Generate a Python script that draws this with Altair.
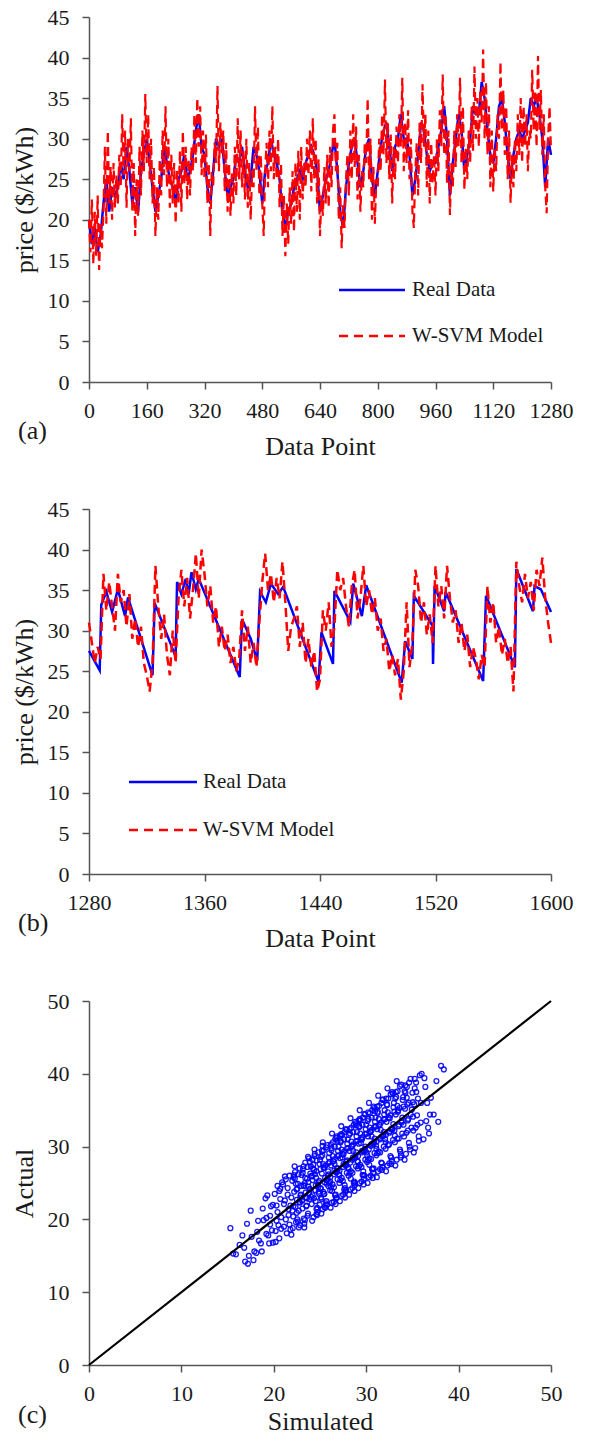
import altair as alt
import pandas as pd

FONT = "Liberation Serif"

# ---------------- Panel (a): data points 0..1280 ----------------
# W-SVM model (red, dashed), read every 4 data points
red_a = [
    20, 16, 22.5, 14.5, 21, 15.5, 23, 13.8, 19.5, 16.5,
    21, 29, 19.5, 31, 22, 26.5, 20, 27, 21.5, 25.5,
    22, 28, 24, 33, 25.5, 31, 21.5, 30, 26, 32.5,
    21, 27, 18, 25, 20.5, 29, 23, 31, 26, 35.5,
    27, 33, 25, 30, 22, 26.5, 18, 24, 20, 27.5,
    23, 31, 25.5, 34, 24, 30, 21.5, 28, 22, 27,
    19.5, 26, 22, 28.5, 21, 31, 24.5, 29, 22.5, 27.5,
    23, 29, 26, 33, 27, 35, 29, 34, 25.5, 31,
    25, 30.5, 22, 27, 18, 26, 24, 29.5, 27, 36.5,
    26, 32, 28, 31, 23.5, 29.5, 21, 27, 20.5, 26,
    22, 29, 23, 32.5, 25, 31, 24, 28.5, 22.5, 30,
    21.5, 27, 20, 26, 24, 34, 26, 31.5, 23, 28,
    22, 18, 26, 29.5, 24, 31, 26, 34, 25, 29,
    25, 30, 21.5, 27, 18, 23, 15.5, 22, 17, 24,
    19.5, 26, 18.5, 27, 21, 28.5, 20, 29, 22.5, 27,
    24, 30, 25.5, 31, 23.5, 32.5, 25, 30, 22, 27.5,
    18, 23, 20.5, 26.5, 22, 28, 21.5, 29, 24, 31,
    33, 26, 29.5, 20, 24, 16.5, 22, 19, 25, 28,
    23, 31, 25, 33, 26.5, 31.5, 22.5, 28, 21, 26,
    24, 29.5, 27, 35, 25, 30, 20, 26.5, 19.5, 25,
    24, 30, 26, 33, 28, 37.3, 27, 32, 25, 30.5,
    22, 29, 25, 31.5, 27, 33, 29, 37.5, 26, 32,
    27, 33.5, 25, 30, 21, 19, 26, 29.5, 23, 32,
    27, 36.7, 29, 33, 24, 31, 22, 29.5, 24.5, 28,
    23, 30, 26, 33.5, 29, 37.9, 28, 33, 24.5, 31,
    20.6, 27, 24, 31, 26.5, 33, 29, 37.5, 27, 34,
    23.7, 29, 25, 31, 27, 34, 28.5, 38.9, 30, 35,
    29, 36, 32, 41, 30, 37, 28, 34, 24, 31,
    23.5, 29, 26, 33, 30, 39.5, 31, 36, 28, 34,
    25, 31, 22.1, 28, 24, 30, 26, 33, 28, 35,
    27, 34, 29, 33, 26, 31, 30, 38.5, 31, 36,
    29, 40.2, 31, 36, 28, 33, 24, 20.8, 30, 34,
    28.5,
]
# Real data (blue), read every 8 data points
blue_a = [
    20, 17, 19, 16, 18, 22, 25, 21, 24, 23,
    24, 27, 25, 29, 26, 22, 24, 21, 26, 28,
    30, 27, 24, 21, 23, 25, 29, 27, 25, 24,
    22, 25, 26, 28, 25, 26, 28, 31, 33, 29,
    28, 24, 22, 26, 30, 29, 30, 26, 23, 24,
    25, 28, 27, 29, 26, 24, 25, 29, 28, 26,
    22, 26, 27, 30, 28, 27, 25, 21, 19, 21,
    22, 24, 25, 26, 25, 27, 28, 29, 28, 26,
    21, 23, 25, 26, 28, 30, 26, 21, 19, 24,
    27, 29, 30, 27, 24, 26, 29, 30, 25, 23,
    26, 29, 31, 32, 29, 26, 29, 30, 33, 30,
    30, 28, 23, 25, 28, 32, 31, 28, 26, 27,
    27, 29, 31, 34, 30, 23, 27, 30, 33, 31,
    26, 28, 30, 34, 33, 33, 37, 35, 31, 28,
    27, 30, 34, 35, 32, 28, 25, 28, 30, 31,
    30, 31, 32, 35, 34, 35, 33, 30, 24, 30,
    28,
]

# ---------------- Panel (b): data points 1280..1600 ----------------
real_b_x = [1280, 1287.4, 1288.5, 1292, 1296, 1300, 1305, 1307, 1324, 1325.5,
            1340, 1341, 1344, 1347, 1349, 1351, 1354, 1356, 1384.4, 1386,
            1392, 1396.5, 1398.5, 1402.5, 1406, 1411, 1414.5, 1439, 1441, 1449,
            1450, 1461, 1463, 1469, 1472, 1496.6, 1499, 1504, 1505, 1518,
            1518.3, 1519.4, 1526, 1527, 1553, 1555, 1575, 1576, 1587.5, 1588.6,
            1593, 1600]
real_b_v = [27.5, 25.1, 33.2, 34.8, 32.3, 35.1, 31.8, 34.1, 24.5, 33.4,
            26.8, 36.0, 34.5, 36.4, 34.5, 37.2, 35.1, 36.4, 24.3, 31.4,
            29.0, 26.3, 34.8, 33.5, 35.8, 34.5, 35.4, 23.7, 29.8, 25.9,
            34.9, 31.1, 35.8, 31.8, 35.6, 23.6, 28.7, 26.5, 34.3, 30.6,
            25.9, 35.5, 32.4, 34.8, 23.8, 34.3, 25.5, 37.6, 32.4, 35.5,
            35.1, 32.3]
# W-SVM model, every 2 data points from 1280
red_b = [
    31, 28.5, 26, 28, 26.5, 37, 32.5, 36, 33, 30,
    37, 33.5, 35, 30.5, 34.5, 29, 31.5, 28, 30.5, 26,
    24.5, 22.5, 26, 38, 33, 29, 32, 27, 24.5, 30,
    26, 34, 37.5, 33, 36.5, 31.5, 35, 39.5, 34, 40,
    37, 33, 35.5, 31, 33, 28, 30.5, 27.5, 29.5, 26,
    28, 25, 26.5, 32.5, 27.5, 30.5, 26, 28.5, 25.5, 31,
    36, 39.5, 35, 37, 33.5, 36.5, 34, 38.5, 33.5, 27.5,
    30.5, 31.5, 33, 28, 31, 26, 29, 25.5, 27.5, 22.5,
    24, 32.5, 30, 33.5, 28, 30.5, 37.5, 35, 36.5, 33,
    30.5, 35.5, 37.5, 31.5, 34, 38, 33, 35, 32, 34,
    30, 31.5, 27.5, 29, 25, 27, 24.5, 26.5, 21.5, 25,
    33.5, 25.5, 28.5, 37.5, 35.5, 31, 33.5, 29.5, 32, 28.5,
    38, 33, 35.5, 31.5, 38, 34, 31, 32.5, 28.5, 31,
    27.5, 29.5, 25.5, 28, 26.5, 24, 27, 25.5, 35.5, 31,
    33.5, 28.5, 30.5, 27, 29, 26, 28, 22.5, 38.5, 35.5,
    33.5, 37, 34, 36, 32.5, 37.5, 35.5, 39, 34, 31,
    28.5,
]

# ---------------- Panel (c): simulated vs actual ----------------
sim_bins = [
    [15.3, 15.6, 15.9],
    [16.3, 16.6, 16.8, 16.9],
    [17.1, 17.3, 17.5, 17.6, 17.8, 17.9, 17.2],
    [18.1, 18.3, 18.4, 18.6, 18.8, 18.9, 18.2, 18.7],
    [19.1, 19.2, 19.4, 19.5, 19.6, 19.7, 19.8, 19.9, 19.3, 19.6, 19.9, 19.2],
    [20.1, 20.2, 20.3, 20.4, 20.5, 20.6, 20.7, 20.8, 20.9, 20.2, 20.4, 20.6, 20.8, 20.3, 20.7],
    [21.0, 21.1, 21.2, 21.3, 21.4, 21.5, 21.6, 21.7, 21.8, 21.9, 21.1, 21.3, 21.5, 21.7, 21.9, 21.2, 21.6, 21.8],
    [22.0, 22.1, 22.2, 22.3, 22.4, 22.5, 22.6, 22.7, 22.8, 22.9, 22.05, 22.15, 22.35, 22.45, 22.55, 22.65, 22.75, 22.85, 22.25, 22.95],
    [23.0, 23.1, 23.2, 23.3, 23.4, 23.5, 23.6, 23.7, 23.8, 23.9, 23.05, 23.15, 23.25, 23.35, 23.45, 23.55, 23.65, 23.75, 23.85, 23.95, 23.3, 23.7],
    [24.0, 24.1, 24.2, 24.3, 24.4, 24.5, 24.6, 24.7, 24.8, 24.9, 24.05, 24.15, 24.25, 24.35, 24.45, 24.55, 24.65, 24.75, 24.85, 24.95, 24.2, 24.4, 24.6, 24.8],
    [25.0, 25.1, 25.2, 25.3, 25.4, 25.5, 25.6, 25.7, 25.8, 25.9, 25.05, 25.15, 25.25, 25.35, 25.45, 25.55, 25.65, 25.75, 25.85, 25.95, 25.1, 25.3, 25.5, 25.7, 25.9, 25.4],
    [26.0, 26.1, 26.2, 26.3, 26.4, 26.5, 26.6, 26.7, 26.8, 26.9, 26.05, 26.15, 26.25, 26.35, 26.45, 26.55, 26.65, 26.75, 26.85, 26.95, 26.1, 26.3, 26.5, 26.7, 26.9, 26.2, 26.6, 26.8],
    [27.0, 27.1, 27.2, 27.3, 27.4, 27.5, 27.6, 27.7, 27.8, 27.9, 27.05, 27.15, 27.25, 27.35, 27.45, 27.55, 27.65, 27.75, 27.85, 27.95, 27.1, 27.3, 27.5, 27.7, 27.9, 27.2, 27.6, 27.8],
    [28.0, 28.1, 28.2, 28.3, 28.4, 28.5, 28.6, 28.7, 28.8, 28.9, 28.05, 28.15, 28.25, 28.35, 28.45, 28.55, 28.65, 28.75, 28.85, 28.95, 28.1, 28.3, 28.5, 28.7, 28.9, 28.2, 28.6, 28.8],
    [29.0, 29.1, 29.2, 29.3, 29.4, 29.5, 29.6, 29.7, 29.8, 29.9, 29.05, 29.15, 29.25, 29.35, 29.45, 29.55, 29.65, 29.75, 29.85, 29.95, 29.1, 29.3, 29.5, 29.7, 29.9, 29.2, 29.6, 29.8],
    [30.0, 30.1, 30.2, 30.3, 30.4, 30.5, 30.6, 30.7, 30.8, 30.9, 30.05, 30.15, 30.25, 30.35, 30.45, 30.55, 30.65, 30.75, 30.85, 30.95, 30.1, 30.3, 30.5, 30.7, 30.9, 30.2, 30.6, 30.8],
    [31.0, 31.1, 31.2, 31.3, 31.4, 31.5, 31.6, 31.7, 31.8, 31.9, 31.05, 31.15, 31.25, 31.35, 31.45, 31.55, 31.65, 31.75, 31.85, 31.95, 31.1, 31.3, 31.5, 31.7, 31.9, 31.2],
    [32.0, 32.1, 32.2, 32.3, 32.4, 32.5, 32.6, 32.7, 32.8, 32.9, 32.05, 32.15, 32.25, 32.35, 32.45, 32.55, 32.65, 32.75, 32.85, 32.95, 32.1, 32.3, 32.5, 32.7],
    [33.0, 33.1, 33.2, 33.3, 33.4, 33.5, 33.6, 33.7, 33.8, 33.9, 33.05, 33.15, 33.25, 33.35, 33.45, 33.55, 33.65, 33.75, 33.85, 33.95, 33.1, 33.3],
    [34.0, 34.1, 34.2, 34.3, 34.4, 34.5, 34.6, 34.7, 34.8, 34.9, 34.05, 34.15, 34.25, 34.35, 34.45, 34.55, 34.65, 34.75],
    [35.0, 35.1, 35.2, 35.3, 35.4, 35.5, 35.6, 35.7, 35.8, 35.9, 35.05, 35.15, 35.25, 35.35],
    [36.0, 36.2, 36.4, 36.5, 36.6, 36.8, 36.9, 36.3, 36.7],
    [37.0, 37.3, 37.6, 38.1, 38.4, 37.8],
    # second reading of the dense core
    [22.03, 22.38, 22.61, 22.92, 22.17, 22.49, 22.83, 22.28, 22.71, 22.55, 22.12, 22.88],
    [23.07, 23.41, 23.66, 23.93, 23.22, 23.52, 23.81, 23.13, 23.37, 23.74, 23.58, 23.28, 23.9],
    [24.04, 24.36, 24.62, 24.91, 24.19, 24.53, 24.78, 24.27, 24.68, 24.11, 24.86, 24.44, 24.58, 24.97],
    [25.06, 25.33, 25.64, 25.94, 25.21, 25.48, 25.82, 25.12, 25.57, 25.39, 25.72, 25.27, 25.88, 25.16],
    [26.02, 26.37, 26.63, 26.96, 26.18, 26.51, 26.84, 26.24, 26.69, 26.43, 26.11, 26.77, 26.57, 26.31, 26.9],
    [27.05, 27.34, 27.62, 27.93, 27.16, 27.47, 27.83, 27.23, 27.71, 27.54, 27.12, 27.88, 27.41, 27.67, 27.29],
    [28.03, 28.39, 28.66, 28.92, 28.21, 28.52, 28.81, 28.14, 28.73, 28.46, 28.28, 28.87, 28.59, 28.33, 28.97],
    [29.06, 29.35, 29.61, 29.94, 29.19, 29.49, 29.83, 29.25, 29.72, 29.55, 29.12, 29.89, 29.42, 29.68, 29.31],
    [30.04, 30.38, 30.64, 30.91, 30.22, 30.53, 30.82, 30.15, 30.71, 30.47, 30.28, 30.86, 30.58, 30.33, 30.96],
    [31.07, 31.36, 31.63, 31.92, 31.18, 31.51, 31.84, 31.24, 31.69, 31.44, 31.13, 31.78, 31.57],
    [32.05, 32.34, 32.62, 32.93, 32.17, 32.48, 32.81, 32.26, 32.72, 32.55, 32.12, 32.88],
    [33.06, 33.37, 33.65, 33.91, 33.21, 33.52, 33.83, 33.14, 33.74, 33.44],
    [34.04, 34.39, 34.62, 34.94, 34.23, 34.51, 34.82, 34.16],
    [35.07, 35.42, 35.68, 35.93, 35.25, 35.55],
]
act_bins = [
    [18.8, 15.3, 15.2],
    [16.5, 17.8, 16.1, 14.2],
    [19.4, 15.0, 21.2, 17.6, 14.4, 15.6, 13.9],
    [15.4, 19.8, 17.1, 16.7, 21.5, 19.9, 18.3, 15.6],
    [22.9, 20.2, 17.8, 16.7, 19.3, 21.8, 18.5, 16.8, 23.3, 20.5, 22.0, 18.0],
    [23.5, 18.4, 21.9, 24.6, 19.2, 17.4, 22.8, 20.3, 25.1, 16.9, 21.0, 23.9, 18.7, 19.8, 24.2],
    [24.8, 19.0, 22.6, 25.5, 18.1, 23.4, 20.6, 26.0, 21.9, 17.9, 22.1, 20.0, 24.3, 19.3, 23.0, 25.9, 21.4, 18.6],
    [25.3, 20.4, 23.8, 26.5, 19.6, 22.7, 24.9, 21.2, 27.0, 23.3, 18.8, 25.8, 21.7, 24.1, 20.0, 26.2, 22.4, 19.2, 27.3, 24.6],
    [26.1, 21.5, 24.7, 19.4, 27.8, 23.0, 25.6, 20.8, 28.4, 24.2, 22.6, 26.9, 20.1, 25.0, 23.7, 21.9, 27.2, 24.5, 22.8, 26.3, 18.9, 28.6],
    [27.3, 22.1, 25.4, 20.3, 28.7, 24.0, 26.6, 21.6, 29.2, 23.5, 25.9, 19.8, 27.0, 22.9, 26.2, 24.7, 28.1, 21.0, 25.1, 27.6, 23.3, 29.6, 20.7, 24.4],
    [28.2, 23.0, 26.3, 21.4, 29.5, 25.1, 27.4, 22.5, 30.2, 24.6, 26.9, 20.8, 28.8, 23.8, 27.1, 25.7, 29.9, 22.0, 26.0, 28.5, 24.2, 30.6, 21.7, 25.4, 27.7, 23.5],
    [29.1, 24.0, 27.4, 22.3, 30.6, 26.2, 28.3, 23.4, 31.4, 25.5, 27.9, 21.6, 29.8, 24.8, 28.0, 26.7, 31.0, 22.9, 27.0, 29.4, 25.2, 31.8, 22.4, 26.5, 28.7, 24.4, 30.0, 23.0],
    [30.0, 25.0, 28.4, 23.2, 31.6, 27.2, 29.3, 24.3, 32.4, 26.4, 28.8, 22.5, 30.8, 25.7, 29.0, 27.6, 32.0, 23.8, 27.9, 30.4, 26.1, 32.8, 23.4, 27.5, 29.7, 25.4, 31.0, 24.0],
    [31.0, 26.0, 29.4, 24.1, 32.6, 28.2, 30.3, 25.2, 33.4, 27.3, 29.8, 23.4, 31.8, 26.6, 30.0, 28.5, 33.0, 24.7, 28.8, 31.4, 27.0, 33.9, 24.3, 28.4, 30.7, 26.4, 32.0, 25.0],
    [32.0, 27.0, 30.4, 25.0, 33.6, 29.2, 31.3, 26.1, 34.5, 28.2, 30.8, 24.3, 32.8, 27.5, 31.0, 29.4, 34.0, 25.6, 29.7, 32.4, 27.9, 35.0, 25.2, 29.4, 31.7, 27.3, 33.0, 26.0],
    [33.0, 27.9, 31.4, 25.8, 34.6, 30.1, 32.3, 26.9, 35.5, 29.1, 31.8, 25.0, 33.8, 28.4, 32.0, 30.3, 35.0, 26.4, 30.6, 33.4, 28.8, 36.0, 26.0, 30.4, 32.7, 28.2, 34.0, 27.0],
    [34.0, 28.8, 32.4, 26.6, 35.6, 31.0, 33.3, 27.7, 36.5, 30.0, 32.8, 25.8, 34.8, 29.3, 33.0, 31.2, 36.0, 27.2, 31.5, 34.4, 29.7, 37.0, 26.9, 31.4, 33.7, 29.1],
    [35.0, 29.7, 33.4, 27.4, 36.6, 31.9, 34.3, 28.5, 37.5, 30.9, 33.8, 26.6, 35.8, 30.2, 34.0, 32.1, 37.2, 28.0, 32.4, 35.4, 30.6, 38.0, 27.7, 32.4],
    [36.0, 30.6, 34.4, 28.2, 37.6, 32.8, 35.3, 29.3, 38.5, 31.8, 34.8, 27.4, 36.8, 31.1, 35.0, 33.0, 38.3, 28.8, 33.3, 36.4, 31.5, 39.0],
    [36.8, 31.4, 35.2, 29.0, 38.2, 33.6, 36.0, 30.0, 39.3, 32.6, 35.5, 28.2, 37.4, 31.9, 35.8, 33.8, 38.8, 29.6],
    [37.4, 32.2, 35.8, 29.8, 38.8, 34.3, 36.6, 30.8, 39.8, 33.3, 36.1, 29.2, 38.0, 32.6],
    [40.0, 31.0, 38.2, 33.5, 36.0, 31.8, 34.4, 39.4, 32.6],
    [36.7, 34.4, 39.0, 41.1, 40.6, 33.4],
    # second reading of the dense core
    [21.2, 24.9, 19.7, 23.4, 26.1, 20.9, 22.3, 25.6, 18.9, 24.2, 21.8, 23.0],
    [22.6, 25.7, 20.5, 24.1, 27.3, 21.8, 23.6, 26.4, 19.9, 25.1, 22.9, 24.6, 27.9],
    [23.1, 26.8, 21.4, 25.3, 28.2, 22.5, 24.8, 27.5, 20.6, 26.0, 23.8, 29.0, 25.7, 22.0],
    [24.3, 27.6, 22.2, 26.2, 29.4, 23.5, 25.5, 28.6, 21.6, 27.1, 24.9, 30.1, 26.6, 22.8],
    [25.0, 28.7, 23.3, 27.0, 30.3, 24.4, 26.5, 29.5, 22.1, 28.0, 25.8, 31.2, 27.6, 23.9, 30.8],
    [26.2, 29.6, 24.1, 28.1, 31.5, 25.3, 27.4, 30.6, 23.0, 28.9, 26.7, 32.3, 28.5, 24.7, 31.7],
    [27.1, 30.7, 25.0, 29.2, 32.4, 26.4, 28.5, 31.6, 23.9, 30.1, 27.8, 33.2, 29.4, 25.6, 32.9],
    [28.0, 31.8, 26.1, 30.0, 33.6, 27.2, 29.4, 32.7, 24.8, 31.0, 28.7, 34.4, 30.5, 26.6, 33.8],
    [29.2, 32.6, 26.9, 31.1, 34.7, 28.3, 30.4, 33.5, 25.7, 32.1, 29.6, 35.3, 31.4, 27.5, 34.9],
    [30.1, 33.8, 27.8, 32.0, 35.5, 29.2, 31.5, 34.6, 26.8, 33.0, 30.7, 36.4, 32.3],
    [31.0, 34.7, 28.7, 33.1, 36.6, 30.3, 32.4, 35.7, 27.6, 33.9, 31.6, 37.3],
    [32.2, 35.6, 29.6, 34.0, 37.5, 31.1, 33.5, 36.6, 28.5, 34.8],
    [33.0, 36.7, 30.5, 35.1, 38.4, 32.2, 34.4, 37.6],
    [34.1, 37.5, 31.4, 36.0, 39.3, 33.0],
]
line_x = [0, 50]
line_y = [0, 50]

# tick values
xticks_a = [0, 160, 320, 480, 640, 800, 960, 1120, 1280]
xticks_b = [1280, 1360, 1440, 1520, 1600]
yticks_ab = [0, 5, 10, 15, 20, 25, 30, 35, 40, 45]
ticks_c = [0, 10, 20, 30, 40, 50]
legend_labels = ["Real Data", "W-SVM Model"]

# ---------------- build tables ----------------
df_red_a = pd.DataFrame({"i": [4 * k for k in range(len(red_a))], "v": red_a})
df_blue_a = pd.DataFrame({"i": [8 * k for k in range(len(blue_a))], "v": blue_a})
df_red_b = pd.DataFrame({"i": [1280 + 2 * k for k in range(len(red_b))], "v": red_b})
df_blue_b = pd.DataFrame({"i": real_b_x, "v": real_b_v})
sims, acts = [], []
for sb, ab in zip(sim_bins, act_bins):
    for s, a in zip(sb, ab):
        sims.append(s)
        acts.append(a)
df_sc = pd.DataFrame({"sim": sims, "act": acts})
df_line = pd.DataFrame({"sim": line_x, "act": line_y})

W, H = 462, 365
BLUE = "#0000ff"
RED = "#ff0000"
TXT = "#1a1a1a"


def lab(text):
    return pd.DataFrame({"t": [text]})


def legend_layers(x0, x1, y1, y2, tx):
    r1 = alt.Chart(lab(legend_labels[0])).mark_rule(color=BLUE, strokeWidth=2.5).encode(
        x=alt.value(x0), x2=alt.value(x1), y=alt.value(y1))
    r2 = alt.Chart(lab(legend_labels[1])).mark_rule(color=RED, strokeWidth=2.5, strokeDash=[9, 6]).encode(
        x=alt.value(x0), x2=alt.value(x1), y=alt.value(y2))
    t1 = alt.Chart(lab(legend_labels[0])).mark_text(font=FONT, fontSize=21, align="left", baseline="middle", color=TXT).encode(
        x=alt.value(tx), y=alt.value(y1), text="t:N")
    t2 = alt.Chart(lab(legend_labels[1])).mark_text(font=FONT, fontSize=21, align="left", baseline="middle", color=TXT).encode(
        x=alt.value(tx), y=alt.value(y2), text="t:N")
    return [r1, r2, t1, t2]


def tag_layer(text):
    return alt.Chart(lab(text)).mark_text(font=FONT, fontSize=26, align="left", baseline="middle", color=TXT).encode(
        x=alt.value(-71), y=alt.value(414), text="t:N")


def ts_panel(df_blue, df_red, xdom, xticks, leg, tag, red_w):
    x = alt.X("i:Q", scale=alt.Scale(domain=xdom, nice=False, zero=False),
              axis=alt.Axis(values=xticks, format="d", title="Data Point", titleX=W / 2, titleY=72))
    y = alt.Y("v:Q", scale=alt.Scale(domain=[0, 45], nice=False),
              axis=alt.Axis(values=yticks_ab, title="price ($/kWh)", titleY=H / 2))
    blue = alt.Chart(df_blue).mark_line(color=BLUE, strokeWidth=2.5).encode(x=x, y=y)
    red = alt.Chart(df_red).mark_line(color=RED, strokeWidth=red_w, strokeDash=[9, 5]).encode(x=x, y=y)
    return alt.layer(blue, red, *legend_layers(*leg), tag_layer(tag)).properties(width=W, height=H)


pa = ts_panel(df_blue_a, df_red_a, [0, 1280], xticks_a, (250, 316, 273, 319, 323), "(a)", 2.2)
pb = ts_panel(df_blue_b, df_red_b, [1280, 1600], xticks_b, (40, 108, 273, 321, 114), "(b)", 2.5)

Hc = 364
xc = alt.X("sim:Q", scale=alt.Scale(domain=[0, 50], nice=False),
           axis=alt.Axis(values=ticks_c, title="Simulated", titleX=W / 2, titleY=64))
yc = alt.Y("act:Q", scale=alt.Scale(domain=[0, 50], nice=False),
           axis=alt.Axis(values=ticks_c, title="Actual", titleY=Hc / 2))
sc = alt.Chart(df_sc).mark_point(shape="circle", filled=False, color=BLUE, size=24,
                                 strokeWidth=1.3, opacity=0.9).encode(x=xc, y=yc)
ln = alt.Chart(df_line).mark_line(color="black", strokeWidth=2.2).encode(x=xc, y=yc)
pc = alt.layer(sc, ln, tag_layer("(c)")).properties(width=W, height=Hc)

chart = alt.vconcat(pa, pb, pc, spacing=127, bounds="flush").properties(
    padding={"left": 3, "top": -2, "right": 8, "bottom": 0},
).configure_axis(
    grid=False, domainColor="#555555", tickColor="#555555", labelColor=TXT, titleColor=TXT,
    labelFont=FONT, titleFont=FONT, labelFontSize=22, titleFontSize=26, titleFontWeight="normal",
    tickSize=7, domainWidth=1.5, tickWidth=1.5, labelFlush=False, labelOverlap=False
).configure_axisX(
    labelPadding=11, titleBaseline="alphabetic"
).configure_axisY(
    labelPadding=13, titleX=-57, titleBaseline="alphabetic"
).configure_view(stroke=None)

chart.save("out.html", embed_options={"renderer": "svg", "actions": False})
